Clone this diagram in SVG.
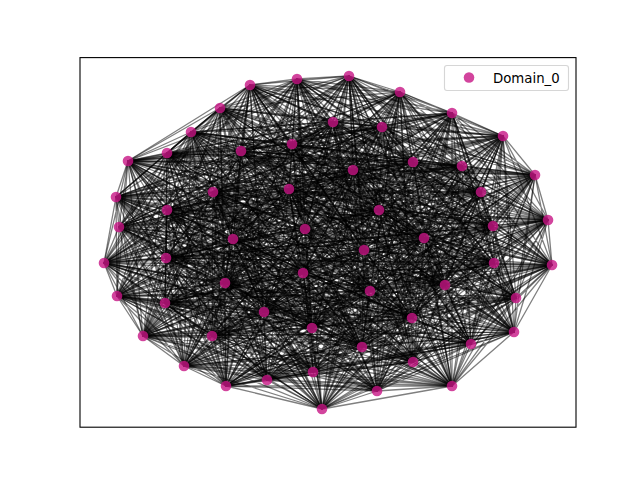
<svg xmlns="http://www.w3.org/2000/svg" width="640" height="480" viewBox="0 0 640 480">
<style>
.e{fill:none;stroke:#000;stroke-opacity:0.5;stroke-width:1.3;stroke-linejoin:round}
.n{fill:#c71585;fill-opacity:0.8}
.t{font-family:"DejaVu Sans","Liberation Sans",sans-serif;font-size:13.3px;fill:#000}
</style>
<rect x="0" y="0" width="640" height="480" fill="#fff"/>
<g id="edges">
<path class="e" d="M250 85 297 79 349 76 400 92 452 113 503 136 535 175 548 220 552 265 516 298 514 332 471 344 452 386 413 362 377 391 322 409 313 372 267 380 226 386 184 366 143 336 117 296 104 263 119 227 116 197 128 161 167 153 191 132 220 108 241 151 292 144 333 122 382 127 413 162 462 166 481 192 493 226 494 263 445 285 424 238 379 210 353 170 289 189 213 192 167 210 166 258 165 303 212 336 264 312 225 283 233 239 305 229 303 273 312 328 362 347 412 318 370 291 364 250Z"/>
<path class="e" d="M250 85 349 76 452 113 535 175 552 265 514 332 452 386 377 391 313 372 226 386 143 336 104 263 116 197 167 153 220 108 292 144 382 127 462 166 493 226 445 285 379 210 289 189 167 210 165 303 264 312 233 239 303 273 362 347 370 291ZM297 79 400 92 503 136 548 220 516 298 471 344 413 362 322 409 267 380 184 366 117 296 119 227 128 161 191 132 241 151 333 122 413 162 481 192 494 263 424 238 353 170 213 192 166 258 212 336 225 283 305 229 312 328 412 318 364 250Z"/>
<path class="e" d="M250 85 400 92 535 175 516 298 452 386 322 409 226 386 117 296 116 197 191 132 292 144 413 162 493 226 424 238 289 189 166 258 264 312 305 229 362 347 364 250 349 76 503 136 552 265 471 344 377 391 267 380 143 336 119 227 167 153 241 151 382 127 481 192 445 285 353 170 167 210 212 336 233 239 312 328 370 291 297 79 452 113 548 220 514 332 413 362 313 372 184 366 104 263 128 161 220 108 333 122 462 166 494 263 379 210 213 192 165 303 225 283 303 273 412 318Z"/>
<path class="e" d="M250 85 452 113 552 265 452 386 313 372 143 336 116 197 220 108 382 127 493 226 379 210 167 210 264 312 303 273 370 291 349 76 535 175 514 332 377 391 226 386 104 263 167 153 292 144 462 166 445 285 289 189 165 303 233 239 362 347ZM297 79 503 136 516 298 413 362 267 380 117 296 128 161 241 151 413 162 494 263 353 170 166 258 225 283 312 328 364 250 400 92 548 220 471 344 322 409 184 366 119 227 191 132 333 122 481 192 424 238 213 192 212 336 305 229 412 318Z"/>
<path class="e" d="M250 85 503 136 514 332 322 409 143 336 128 161 292 144 481 192 379 210 166 258 233 239 412 318 349 76 548 220 452 386 267 380 104 263 191 132 382 127 494 263 289 189 212 336 303 273 364 250 452 113 516 298 377 391 184 366 116 197 241 151 462 166 424 238 167 210 225 283 362 347 297 79 535 175 471 344 313 372 117 296 167 153 333 122 493 226 353 170 165 303 305 229 370 291 400 92 552 265 413 362 226 386 119 227 220 108 413 162 445 285 213 192 264 312 312 328Z"/>
<path class="e" d="M250 85 535 175 452 386 226 386 116 197 292 144 493 226 289 189 264 312 362 347 349 76 552 265 377 391 143 336 167 153 382 127 445 285 167 210 233 239 370 291 452 113 514 332 313 372 104 263 220 108 462 166 379 210 165 303 303 273ZM297 79 548 220 413 362 184 366 128 161 333 122 494 263 213 192 225 283 412 318 400 92 516 298 322 409 117 296 191 132 413 162 424 238 166 258 305 229 364 250 503 136 471 344 267 380 119 227 241 151 481 192 353 170 212 336 312 328Z"/>
<path class="e" d="M250 85 548 220 377 391 117 296 220 108 481 192 289 189 225 283 370 291 503 136 452 386 184 366 167 153 413 162 379 210 212 336 362 347 400 92 514 332 267 380 116 197 333 122 445 285 166 258 303 273 297 79 552 265 322 409 104 263 241 151 493 226 213 192 233 239 364 250 535 175 413 362 143 336 191 132 462 166 353 170 264 312 412 318 452 113 471 344 226 386 128 161 382 127 424 238 165 303 312 328 349 76 516 298 313 372 119 227 292 144 494 263 167 210 305 229Z"/>
<path class="e" d="M250 85 552 265 313 372 116 197 382 127 379 210 264 312 370 291 535 175 377 391 104 263 292 144 445 285 165 303 362 347 452 113 452 386 143 336 220 108 493 226 167 210 303 273 349 76 514 332 226 386 167 153 462 166 289 189 233 239ZM297 79 516 298 267 380 128 161 413 162 353 170 225 283 364 250 548 220 322 409 119 227 333 122 424 238 212 336 412 318 503 136 413 362 117 296 241 151 494 263 166 258 312 328 400 92 471 344 184 366 191 132 481 192 213 192 305 229Z"/>
<path class="e" d="M250 85 516 298 226 386 191 132 493 226 166 258 362 347 503 136 377 391 119 227 382 127 353 170 233 239 297 79 514 332 184 366 220 108 494 263 165 303 412 318 535 175 322 409 116 197 413 162 289 189 305 229 349 76 471 344 143 336 241 151 445 285 212 336 370 291 548 220 313 372 128 161 462 166 213 192 303 273 400 92 452 386 117 296 292 144 424 238 264 312 364 250 552 265 267 380 167 153 481 192 167 210 312 328 452 113 413 362 104 263 333 122 379 210 225 283Z"/>
<path class="e" d="M250 85 514 332 143 336 292 144 379 210 233 239 349 76 452 386 104 263 382 127 289 189 303 273 452 113 377 391 116 197 462 166 167 210 362 347 535 175 313 372 167 153 493 226 165 303 370 291 552 265 226 386 220 108 445 285 264 312ZM297 79 471 344 117 296 333 122 353 170 305 229 400 92 413 362 119 227 413 162 213 192 312 328 503 136 322 409 128 161 481 192 166 258 412 318 548 220 267 380 191 132 494 263 212 336 364 250 516 298 184 366 241 151 424 238 225 283Z"/>
<path class="e" d="M250 85 471 344 104 263 413 162 167 210 412 318 552 265 184 366 292 144 353 170 303 273 503 136 313 372 191 132 445 285 225 283 349 76 413 362 116 197 481 192 165 303 364 250 514 332 117 296 382 127 213 192 362 347 548 220 226 386 241 151 379 210 305 229 452 113 322 409 167 153 494 263 264 312 297 79 452 386 119 227 462 166 166 258 370 291 516 298 143 336 333 122 289 189 312 328 535 175 267 380 220 108 424 238 233 239 400 92 377 391 128 161 493 226 212 336Z"/>
<path class="e" d="M250 85 452 386 116 197 493 226 264 312 349 76 377 391 167 153 445 285 233 239 452 113 313 372 220 108 379 210 303 273 535 175 226 386 292 144 289 189 362 347 552 265 143 336 382 127 167 210 370 291 514 332 104 263 462 166 165 303ZM297 79 413 362 128 161 494 263 225 283 400 92 322 409 191 132 424 238 305 229 503 136 267 380 241 151 353 170 312 328 548 220 184 366 333 122 213 192 412 318 516 298 117 296 413 162 166 258 364 250 471 344 119 227 481 192 212 336Z"/>
<path class="e" d="M250 85 377 391 220 108 289 189 370 291 452 386 167 153 379 210 362 347 514 332 116 197 445 285 303 273 552 265 104 263 493 226 233 239 535 175 143 336 462 166 264 312 452 113 226 386 382 127 165 303 349 76 313 372 292 144 167 210ZM297 79 322 409 241 151 213 192 364 250 413 362 191 132 353 170 412 318 471 344 128 161 424 238 312 328 516 298 119 227 494 263 305 229 548 220 117 296 481 192 225 283 503 136 184 366 413 162 212 336 400 92 267 380 333 122 166 258Z"/>
<path class="e" d="M250 85 267 380 462 166 305 229 514 332 191 132 167 210 400 92 143 336 494 263 362 347 413 362 292 144 212 336 535 175 119 227 379 210 364 250 313 372 413 162 233 239 516 298 167 153 213 192 349 76 184 366 493 226 312 328 452 386 241 151 165 303 503 136 104 263 424 238 370 291 322 409 382 127 225 283 552 265 128 161 289 189 297 79 226 386 481 192 303 273 471 344 220 108 166 258 452 113 117 296 445 285 412 318 377 391 333 122 264 312 548 220 116 197 353 170Z"/>
<path class="e" d="M250 85 184 366 445 285 364 250 226 386 494 263 370 291 267 380 493 226 412 318 313 372 481 192 362 347 322 409 462 166 312 328 377 391 413 162 303 273 413 362 382 127 305 229 452 386 333 122 233 239 471 344 292 144 225 283 514 332 241 151 264 312 516 298 220 108 212 336 552 265 191 132 165 303 548 220 167 153 166 258 535 175 128 161 167 210 503 136 116 197 213 192 452 113 119 227 289 189 400 92 104 263 353 170 349 76 117 296 379 210 297 79 143 336 424 238Z"/>
<path class="e" d="M250 85 143 336 379 210 349 76 104 263 289 189 452 113 116 197 167 210 535 175 167 153 165 303 552 265 220 108 264 312 514 332 292 144 233 239 452 386 382 127 303 273 377 391 462 166 362 347 313 372 493 226 370 291 226 386 445 285ZM297 79 117 296 353 170 400 92 119 227 213 192 503 136 128 161 166 258 548 220 191 132 212 336 516 298 241 151 225 283 471 344 333 122 305 229 413 362 413 162 312 328 322 409 481 192 412 318 267 380 494 263 364 250 184 366 424 238Z"/>
<path class="e" d="M250 85 117 296 289 189 503 136 167 153 212 336 514 332 333 122 303 273 322 409 493 226 364 250 143 336 353 170 452 113 128 161 165 303 516 298 292 144 305 229 377 391 481 192 370 291 184 366 379 210 400 92 116 197 166 258 552 265 241 151 233 239 413 362 462 166 412 318 226 386 424 238 349 76 119 227 167 210 548 220 220 108 225 283 452 386 413 162 362 347 267 380 445 285 297 79 104 263 213 192 535 175 191 132 264 312 471 344 382 127 312 328 313 372 494 263Z"/>
<path class="e" d="M250 85 119 227 165 303 471 344 462 166 364 250 104 263 166 258 514 332 413 162 370 291 117 296 167 210 516 298 382 127 412 318 143 336 213 192 552 265 333 122 362 347 184 366 289 189 548 220 292 144 312 328 226 386 353 170 535 175 241 151 303 273 267 380 379 210 503 136 220 108 305 229 313 372 424 238 452 113 191 132 233 239 322 409 445 285 400 92 167 153 225 283 377 391 494 263 349 76 128 161 264 312 413 362 493 226 297 79 116 197 212 336 452 386 481 192Z"/>
<path class="e" d="M250 85 128 161 233 239 267 380 289 189 516 298 462 166 297 79 167 153 305 229 226 386 213 192 514 332 481 192 349 76 191 132 303 273 184 366 167 210 471 344 493 226 400 92 220 108 312 328 143 336 166 258 452 386 494 263 452 113 241 151 362 347 117 296 165 303 413 362 445 285 503 136 292 144 412 318 104 263 212 336 377 391 424 238 535 175 333 122 370 291 119 227 264 312 322 409 379 210 548 220 382 127 364 250 116 197 225 283 313 372 353 170 552 265 413 162Z"/>
<path class="e" d="M250 85 167 153 303 273 143 336 165 303 377 391 379 210 552 265 462 166 349 76 220 108 362 347 104 263 264 312 313 372 289 189 514 332 493 226 452 113 292 144 370 291 116 197 233 239 226 386 167 210 452 386 445 285 535 175 382 127ZM297 79 191 132 312 328 117 296 212 336 322 409 353 170 516 298 481 192 400 92 241 151 412 318 119 227 225 283 267 380 213 192 471 344 494 263 503 136 333 122 364 250 128 161 305 229 184 366 166 258 413 362 424 238 548 220 413 162Z"/>
<path class="e" d="M250 85 191 132 362 347 119 227 233 239 184 366 165 303 322 409 289 189 471 344 445 285 548 220 462 166 400 92 292 144 364 250 167 153 312 328 104 263 225 283 226 386 166 258 377 391 353 170 514 332 494 263 535 175 413 162 349 76 241 151 370 291 128 161 303 273 117 296 264 312 267 380 167 210 413 362 379 210 516 298 493 226 503 136 382 127 297 79 220 108 412 318 116 197 305 229 143 336 212 336 313 372 213 192 452 386 424 238 552 265 481 192 452 113 333 122Z"/>
<path class="e" d="M250 85 220 108 370 291 167 153 362 347 116 197 303 273 104 263 233 239 143 336 264 312 226 386 165 303 313 372 167 210 377 391 289 189 452 386 379 210 514 332 445 285 552 265 493 226 535 175 462 166 452 113 382 127 349 76 292 144ZM297 79 241 151 364 250 191 132 412 318 128 161 312 328 119 227 305 229 117 296 225 283 184 366 212 336 267 380 166 258 322 409 213 192 413 362 353 170 471 344 424 238 516 298 494 263 548 220 481 192 503 136 413 162 400 92 333 122Z"/>
<path class="e" d="M250 85 241 151M297 79 292 144M349 76 333 122M400 92 382 127M452 113 413 162M503 136 462 166M535 175 481 192M548 220 493 226M552 265 494 263M516 298 445 285M514 332 424 238M471 344 379 210M452 386 353 170M413 362 289 189M377 391 213 192M322 409 167 210M313 372 166 258M267 380 165 303M226 386 212 336M184 366 264 312M143 336 225 283M117 296 233 239M104 263 305 229M119 227 303 273M116 197 312 328M128 161 362 347M167 153 412 318M191 132 370 291M220 108 364 250"/>
</g>
<g id="n0"><circle class="n" cx="250" cy="85" r="5.3"/></g>
<g id="n1"><circle class="n" cx="297" cy="79" r="5.3"/></g>
<g id="n2"><circle class="n" cx="349" cy="76" r="5.3"/></g>
<g id="n3"><circle class="n" cx="400" cy="92" r="5.3"/></g>
<g id="n4"><circle class="n" cx="452" cy="113" r="5.3"/></g>
<g id="n5"><circle class="n" cx="503" cy="136" r="5.3"/></g>
<g id="n6"><circle class="n" cx="535" cy="175" r="5.3"/></g>
<g id="n7"><circle class="n" cx="548" cy="220" r="5.3"/></g>
<g id="n8"><circle class="n" cx="552" cy="265" r="5.3"/></g>
<g id="n9"><circle class="n" cx="516" cy="298" r="5.3"/></g>
<g id="n10"><circle class="n" cx="514" cy="332" r="5.3"/></g>
<g id="n11"><circle class="n" cx="471" cy="344" r="5.3"/></g>
<g id="n12"><circle class="n" cx="452" cy="386" r="5.3"/></g>
<g id="n13"><circle class="n" cx="413" cy="362" r="5.3"/></g>
<g id="n14"><circle class="n" cx="377" cy="391" r="5.3"/></g>
<g id="n15"><circle class="n" cx="322" cy="409" r="5.3"/></g>
<g id="n16"><circle class="n" cx="313" cy="372" r="5.3"/></g>
<g id="n17"><circle class="n" cx="267" cy="380" r="5.3"/></g>
<g id="n18"><circle class="n" cx="226" cy="386" r="5.3"/></g>
<g id="n19"><circle class="n" cx="184" cy="366" r="5.3"/></g>
<g id="n20"><circle class="n" cx="143" cy="336" r="5.3"/></g>
<g id="n21"><circle class="n" cx="117" cy="296" r="5.3"/></g>
<g id="n22"><circle class="n" cx="104" cy="263" r="5.3"/></g>
<g id="n23"><circle class="n" cx="119" cy="227" r="5.3"/></g>
<g id="n24"><circle class="n" cx="116" cy="197" r="5.3"/></g>
<g id="n25"><circle class="n" cx="128" cy="161" r="5.3"/></g>
<g id="n26"><circle class="n" cx="167" cy="153" r="5.3"/></g>
<g id="n27"><circle class="n" cx="191" cy="132" r="5.3"/></g>
<g id="n28"><circle class="n" cx="220" cy="108" r="5.3"/></g>
<g id="n29"><circle class="n" cx="241" cy="151" r="5.3"/></g>
<g id="n30"><circle class="n" cx="292" cy="144" r="5.3"/></g>
<g id="n31"><circle class="n" cx="333" cy="122" r="5.3"/></g>
<g id="n32"><circle class="n" cx="382" cy="127" r="5.3"/></g>
<g id="n33"><circle class="n" cx="413" cy="162" r="5.3"/></g>
<g id="n34"><circle class="n" cx="462" cy="166" r="5.3"/></g>
<g id="n35"><circle class="n" cx="481" cy="192" r="5.3"/></g>
<g id="n36"><circle class="n" cx="493" cy="226" r="5.3"/></g>
<g id="n37"><circle class="n" cx="494" cy="263" r="5.3"/></g>
<g id="n38"><circle class="n" cx="445" cy="285" r="5.3"/></g>
<g id="n39"><circle class="n" cx="424" cy="238" r="5.3"/></g>
<g id="n40"><circle class="n" cx="379" cy="210" r="5.3"/></g>
<g id="n41"><circle class="n" cx="353" cy="170" r="5.3"/></g>
<g id="n42"><circle class="n" cx="289" cy="189" r="5.3"/></g>
<g id="n43"><circle class="n" cx="213" cy="192" r="5.3"/></g>
<g id="n44"><circle class="n" cx="167" cy="210" r="5.3"/></g>
<g id="n45"><circle class="n" cx="166" cy="258" r="5.3"/></g>
<g id="n46"><circle class="n" cx="165" cy="303" r="5.3"/></g>
<g id="n47"><circle class="n" cx="212" cy="336" r="5.3"/></g>
<g id="n48"><circle class="n" cx="264" cy="312" r="5.3"/></g>
<g id="n49"><circle class="n" cx="225" cy="283" r="5.3"/></g>
<g id="n50"><circle class="n" cx="233" cy="239" r="5.3"/></g>
<g id="n51"><circle class="n" cx="305" cy="229" r="5.3"/></g>
<g id="n52"><circle class="n" cx="303" cy="273" r="5.3"/></g>
<g id="n53"><circle class="n" cx="312" cy="328" r="5.3"/></g>
<g id="n54"><circle class="n" cx="362" cy="347" r="5.3"/></g>
<g id="n55"><circle class="n" cx="412" cy="318" r="5.3"/></g>
<g id="n56"><circle class="n" cx="370" cy="291" r="5.3"/></g>
<g id="n57"><circle class="n" cx="364" cy="250" r="5.3"/></g>
<rect x="80" y="57.6" width="496" height="369.6" fill="none" stroke="#000" stroke-width="1.1"/>
<g id="legend">
<rect x="444.5" y="65.5" width="124" height="25" rx="2.5" fill="#fff" fill-opacity="0.8" stroke="#ccc" stroke-opacity="0.8" stroke-width="1.1"/>
<circle class="n" cx="469" cy="77.5" r="5.3"/>
<text class="t" x="493" y="82.5">Domain_0</text>
</g>
</svg>
